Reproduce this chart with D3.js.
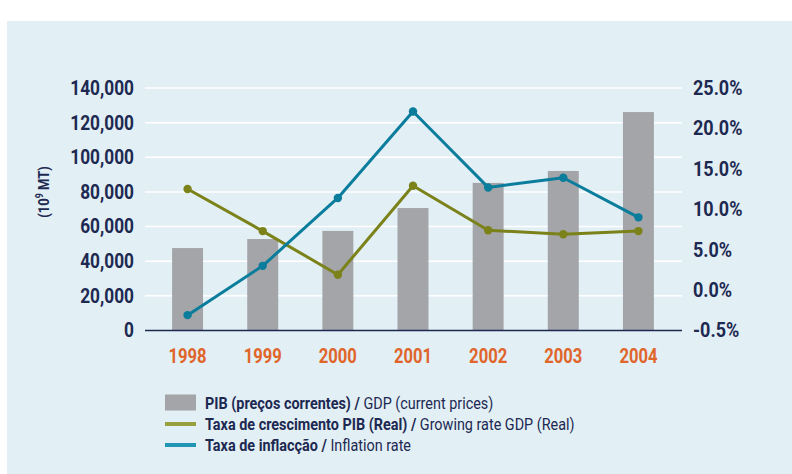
<!DOCTYPE html>
<html>
<head>
<meta charset="utf-8">
<script src="https://cdn.jsdelivr.net/npm/d3@7"></script>
<style>
  html, body { margin: 0; padding: 0; background: #ffffff; }
  svg { display: block; }
  text { font-family: Roboto, "Liberation Sans", sans-serif; }
</style>
</head>
<body>
<svg id="chart" width="792" height="474"></svg>
<script>
// ---- data ----
const years = ["1998", "1999", "2000", "2001", "2002", "2003", "2004"];
const gdpCurrent = [47600, 52800, 57500, 70700, 85200, 92100, 126100];      // 10^9 MT
const gdpGrowth = [12.5, 7.3, 1.9, 12.9, 7.4, 6.9, 7.3];                    // %
const inflation = [-3.1, 3.0, 11.4, 22.1, 12.7, 13.9, 9.0];                 // %
const leftTicks = [0, 20000, 40000, 60000, 80000, 100000, 120000, 140000];
const rightTicks = [-5, 0, 5, 10, 15, 20, 25];
const rightTickLabels = ["-0.5%", "0.0%", "5.0%", "10.0%", "15.0%", "20.0%", "25.0%"];
const legendItems = [
  { bold: "PIB (preços correntes) / ", normal: "GDP (current prices)", type: "bar" },
  { bold: "Taxa de crescimento PIB (Real) / ", normal: "Growing rate GDP (Real)", type: "growth" },
  { bold: "Taxa de inflacção / ", normal: "Inflation rate", type: "inflation" }
];

// ---- styles ----
const navy = "#1d2951";
const orange = "#e0652a";
const barColor = "#a4a5a8";
const growthColor = "#7b8219";
const inflColor = "#0b7d9c";
const growthLegend = "#97a03d";
const inflLegend = "#1e96b4";

const svg = d3.select("#chart");

// panel
svg.append("rect").attr("x", 7).attr("y", 21).attr("width", 785).attr("height", 453)
  .attr("fill", "#e2eff5");

const gridX0 = 145, gridX1 = 682;
const y = d3.scaleLinear().domain([0, 140000]).range([330.5, 88]);
const yR = d3.scaleLinear().domain([-5, 25]).range([330.5, 88]);
const x = d3.scaleBand().domain(years).range([150, 676]).paddingInner(0.588).paddingOuter(0.294);
const cx = d => x(d) + x.bandwidth() / 2;

// gridlines
svg.append("g").selectAll("line").data(leftTicks.filter(t => t > 0)).join("line")
  .attr("x1", gridX0).attr("x2", gridX1)
  .attr("y1", d => y(d)).attr("y2", d => y(d))
  .attr("stroke", "#ffffff").attr("stroke-width", 1.5);

// bars
svg.append("g").selectAll("rect").data(years).join("rect")
  .attr("x", d => x(d)).attr("width", x.bandwidth())
  .attr("y", (d, i) => y(gdpCurrent[i]))
  .attr("height", (d, i) => y(0) - y(gdpCurrent[i]))
  .attr("fill", barColor);

// baseline
svg.append("line").attr("x1", gridX0).attr("x2", gridX1)
  .attr("y1", y(0)).attr("y2", y(0)).attr("stroke", navy).attr("stroke-width", 1.6);

function styleTicks(g, color, k) {
  g.select(".domain").remove();
  g.selectAll("text").attr("font-size", 20).attr("font-weight", "bold")
    .attr("fill", color).attr("transform", `scale(${k},1)`);
}

// left axis
const leftAxis = d3.axisLeft(y).tickValues(leftTicks).tickSize(0).tickPadding(0)
  .tickFormat(d3.format(","));
styleTicks(svg.append("g").attr("transform", "translate(134,0)").call(leftAxis), navy, 0.865);

// right axis
const rightAxis = d3.axisRight(yR).tickValues(rightTicks).tickSize(0).tickPadding(0)
  .tickFormat((d, i) => rightTickLabels[i]);
styleTicks(svg.append("g").attr("transform", "translate(693,0)").call(rightAxis), navy, 0.9);

// x axis labels
const bottomAxis = d3.axisBottom(x).tickSize(0).tickPadding(0);
styleTicks(svg.append("g").attr("transform", "translate(0,349)").call(bottomAxis), orange, 0.83);

// y-axis title
const yt = svg.append("text")
  .attr("transform", "translate(49,192) rotate(-90) scale(0.87,1)")
  .attr("text-anchor", "middle").attr("font-size", 15).attr("font-weight", "bold").attr("fill", navy);
yt.append("tspan").text("(10");
yt.append("tspan").attr("font-size", 10).attr("dy", -6).text("9");
yt.append("tspan").attr("dy", 6).text(" MT)");

// lines
function drawSeries(vals, color) {
  const line = d3.line().x((d, i) => cx(years[i])).y(d => yR(d));
  svg.append("path").datum(vals).attr("d", line).attr("fill", "none")
    .attr("stroke", color).attr("stroke-width", 3).attr("stroke-linejoin", "round");
  svg.append("g").selectAll("circle").data(vals).join("circle")
    .attr("cx", (d, i) => cx(years[i])).attr("cy", d => yR(d)).attr("r", 4.2)
    .attr("fill", color);
}
drawSeries(gdpGrowth, growthColor);
drawSeries(inflation, inflColor);

// legend
const lg = svg.append("g");
legendItems.forEach((it, i) => {
  const yy = 403 + i * 21;
  if (it.type === "bar") {
    lg.append("rect").attr("x", 165).attr("y", yy - 8.5).attr("width", 31).attr("height", 16).attr("fill", barColor);
  } else {
    lg.append("rect").attr("x", 165).attr("y", yy - 2).attr("width", 31).attr("height", 4)
      .attr("fill", it.type === "growth" ? growthLegend : inflLegend);
  }
  const t = lg.append("text").attr("transform", `translate(205,${yy + 5.5}) scale(0.9,1)`)
    .attr("font-size", 16).attr("fill", navy);
  t.append("tspan").attr("font-weight", "bold").text(it.bold);
  t.append("tspan").attr("font-weight", "normal").text(it.normal);
});
</script>
</body>
</html>
